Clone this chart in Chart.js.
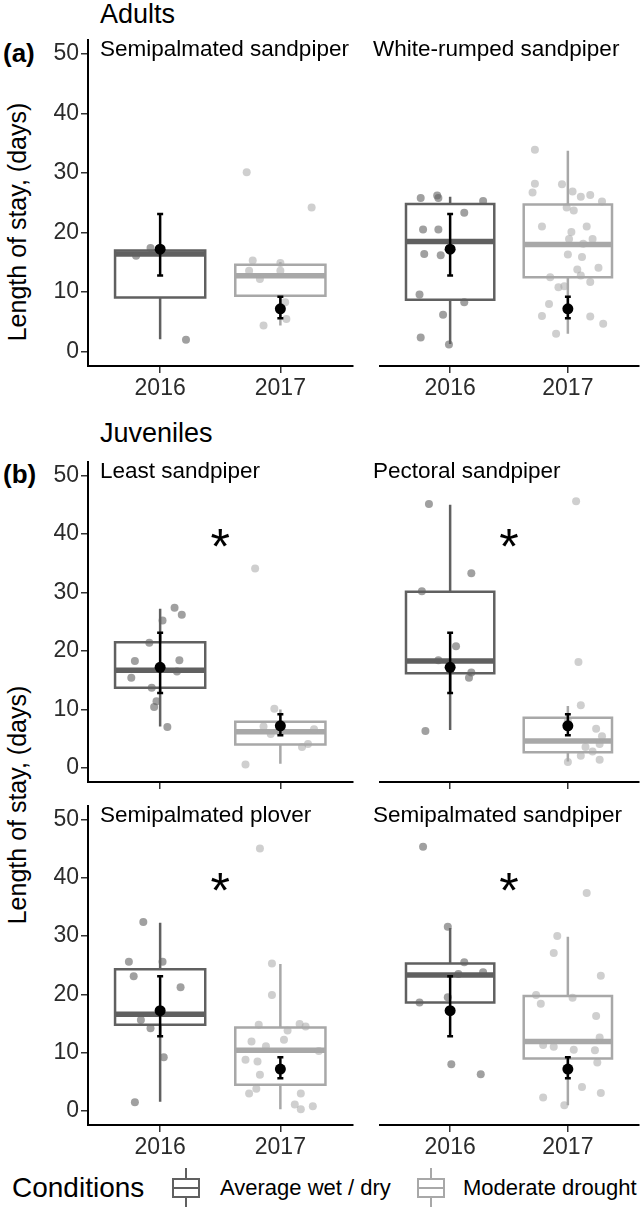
<!DOCTYPE html>
<html lang="en">
<head>
<meta charset="UTF-8">
<title>Length of stay</title>
<style>
  body { margin: 0; background: #fff; }
  #fig { position: relative; width: 644px; height: 1207px; overflow: hidden;
         font-family: "Liberation Sans", Arial, sans-serif; color: #000; }
  #fig canvas { position: absolute; }
  .lbl { position: absolute; white-space: nowrap; line-height: 1; transform: translateY(-50%); }
  .ytitle { position: absolute; white-space: nowrap; line-height: 1; font-size: 25px;
            transform: translate(-50%, -50%) rotate(-90deg); }
  .key { position: absolute; width: 28px; height: 40px; transform: translate(-50%, -50%); }
  .key .wh { position: absolute; left: 13px; width: 2px; top: 0; bottom: 0; }
  .key .bx { position: absolute; left: 0; right: 0; top: 10px; height: 16px; background: #fff; border: 2px solid; }
  .key .md { position: absolute; left: 0; right: 0; top: 7px; height: 2px; }
</style>
</head>
<body>
<div id="fig">
  <div class="lbl" style="left:100px; top:14px; font-size:27px;">Adults</div>
  <div class="lbl" style="left:3px; top:53px; font-size:26px; font-weight:bold;">(a)</div>
  <div class="lbl" style="left:100px; top:433px; font-size:27px;">Juveniles</div>
  <div class="lbl" style="left:3px; top:474px; font-size:26px; font-weight:bold;">(b)</div>
  <div class="ytitle" style="left:17px; top:222px;">Length of stay, (days)</div>
  <div class="ytitle" style="left:17px; top:805px;">Length of stay, (days)</div>

  <div class="lbl" style="left:12px; top:1188px; font-size:28px;">Conditions</div>
  <div class="key" style="left:186px; top:1188px; color:#606060;">
    <div class="wh" style="background:#606060;"></div>
    <div class="bx"><div class="md" style="background:#606060;"></div></div>
  </div>
  <div class="lbl" style="left:220px; top:1188px; font-size:22px;">Average wet / dry</div>
  <div class="key" style="left:431px; top:1188px; color:#a8a8a8;">
    <div class="wh" style="background:#a8a8a8;"></div>
    <div class="bx"><div class="md" style="background:#a8a8a8;"></div></div>
  </div>
  <div class="lbl" style="left:463px; top:1188px; font-size:22px;">Moderate drought</div>
</div>

<script src="https://cdn.jsdelivr.net/npm/chart.js"></script>
<script>
// ---- data ----
const years = ['2016', '2017'];
const yTicks = [0, 10, 20, 30, 40, 50];
const facetNames = ['Semipalmated sandpiper', 'White-rumped sandpiper', 'Least sandpiper',
                    'Pectoral sandpiper', 'Semipalmated plover', 'Semipalmated sandpiper'];

// box stats: [lower whisker, q1, median, q3, upper whisker]
const wetBox = [
  [2.1, 9.1, 16.4, 17.0, 17.0],
  [1.3, 8.7, 18.5, 24.8, 26.0],
  [7.1, 13.7, 16.7, 21.5, 27.2],
  [6.5, 16.2, 18.3, 30.1, 45.0],
  [1.6, 14.8, 16.6, 24.3, 32.3],
  [18.6, 18.6, 23.3, 25.3, 31.4]
];
const dryBox = [
  [4.4, 9.4, 12.75, 14.6, 15.0],
  [3.0, 12.5, 18.0, 24.7, 33.7],
  [0.7, 4.0, 6.2, 7.9, 10.0],
  [1.1, 2.7, 4.6, 8.6, 10.6],
  [0.3, 4.5, 10.4, 14.3, 25.2],
  [1.0, 9.0, 11.9, 19.7, 29.9]
];

// jittered individuals: [x position (1 = 2016, 2 = 2017), days]
const wetPts = [
  [[0.8,16.1],[0.92,17.4],[1.215,2.0]],
  [[0.75,25.8],[0.89,26.2],[0.9,25.8],[1.28,25.3],[1.12,23.3],[0.77,20.5],[0.9,20.5],[0.78,16.4],
   [0.92,16.2],[0.74,9.6],[1.12,8.3],[0.94,6.2],[0.75,2.4],[0.99,1.2]],
  [[1.12,27.4],[1.18,26.2],[1.02,25.2],[0.91,21.4],[0.79,18.3],[1.16,18.4],[1.14,16.5],[0.76,15.4],
   [0.93,13.7],[0.97,11.4],[0.95,10.4],[1.06,7.0]],
  [[0.82,45.1],[1.18,33.3],[0.76,30.2],[1.05,20.8],[0.90,18.4],[1.18,16.3],[1.16,15.4],[0.79,6.3]],
  [[0.86,32.4],[0.74,25.6],[1.02,25.6],[0.78,23.1],[1.17,21.2],[0.84,15.6],[0.92,14.2],[1.03,9.2],[0.79,1.5]],
  [[0.77,45.3],[0.98,31.6],[1.12,25.5],[1.07,23.5],[1.28,23.8],[0.74,18.6],[0.98,19.5],[1.01,8.0],[1.26,6.3]]
];
const dryPts = [
  [[1.72,30.1],[2.26,24.2],[1.77,15.3],[1.74,13.6],[1.83,12.2],[2.0,13.6],[2.04,8.3],[2.05,5.5],
   [1.86,4.4],[2.0,14.9]],
  [[1.72,33.9],[1.72,28.2],[1.70,26.7],[1.95,28.1],[2.04,26.9],[2.11,26.0],[2.19,26.3],[2.29,25.2],
   [2.05,23.7],[1.99,24.2],[1.78,21.0],[2.16,21.0],[2.03,20.1],[2.01,18.9],[2.21,18.9],[2.13,18.1],
   [2.0,16.3],[2.12,15.9],[2.08,13.8],[2.26,14.1],[2.11,12.8],[2.19,11.7],[1.85,12.5],[1.92,10.8],
   [1.97,11.0],[1.84,8.0],[1.78,6.0],[1.90,3.0],[2.19,5.9],[2.30,4.7]],
  [[1.79,34.1],[1.95,10.1],[1.86,7.1],[1.92,5.8],[2.28,6.6],[2.18,3.6],[2.23,4.1],[1.71,0.6]],
  [[2.07,45.6],[2.09,18.1],[2.11,10.7],[2.0,8.0],[2.24,6.7],[2.29,5.4],[2.27,4.1],[2.15,3.6],
   [2.21,2.8],[2.11,2.1],[2.27,1.4],[2.0,1.0]],
  [[1.83,45.0],[1.93,25.3],[1.93,19.9],[1.82,14.8],[2.16,14.9],[2.21,14.5],[2.06,13.8],[2.03,12.2],
   [1.76,11.9],[1.88,11.1],[2.32,10.3],[1.71,8.8],[1.81,8.5],[1.83,6.2],[1.74,3.0],[1.80,3.8],
   [2.17,3.0],[2.12,1.1],[2.17,0.3],[2.27,0.8]],
  [[2.16,37.4],[1.91,30.0],[1.88,27.1],[2.28,23.2],[1.73,19.9],[1.77,18.4],[2.04,19.4],[2.24,16.3],
   [2.27,12.6],[1.79,11.3],[1.88,11.0],[2.05,10.5],[2.23,10.4],[2.25,8.3],[2.12,4.1],[2.28,3.1],
   [1.79,2.3],[1.97,1.0]]
];

// mean +/- interval per year (same in every panel)
const meanDays = [17.2, 7.2];
const meanLow = [12.8, 5.6];
const meanHigh = [23.1, 9.2];

const starred = [false, false, true, true, true, true];
const starPos = [1.5, 39];

// ---- drawing ----
const darkCol = '#606060', lightCol = '#a8a8a8';
const darkPt = 'rgba(96,96,96,0.6)', lightPt = 'rgba(168,168,168,0.55)';
Chart.defaults.font.family = '"Liberation Sans", Arial, sans-serif';

// panel placement: plot area edges in page pixels
const panels = [
  { left: 0,   width: 358, top: 40,  bottom: 366,  yAxis: true,  xLabels: true },
  { left: 374, width: 270, top: 40,  bottom: 366,  yAxis: false, xLabels: true },
  { left: 0,   width: 358, top: 462, bottom: 782,  yAxis: true,  xLabels: false },
  { left: 374, width: 270, top: 462, bottom: 782,  yAxis: false, xLabels: false },
  { left: 0,   width: 358, top: 806, bottom: 1125, yAxis: true,  xLabels: true },
  { left: 374, width: 270, top: 806, bottom: 1125, yAxis: false, xLabels: true }
];
const padTop = 20, xAxisH = 44, yAxisW = 88;

const starPlugin = {
  id: 'sigStar',
  afterDatasetsDraw(chart, args, opts) {
    if (!opts.show) return;
    const { ctx, scales } = chart;
    const size = 50;
    ctx.save();
    ctx.font = size + 'px "Liberation Sans", Arial, sans-serif';
    ctx.fillStyle = '#000';
    ctx.textAlign = 'center';
    ctx.textBaseline = 'alphabetic';
    ctx.fillText('*', scales.x.getPixelForValue(starPos[0]),
                 scales.y.getPixelForValue(starPos[1]) + 0.49 * size);
    ctx.restore();
  }
};

function seg(points, color, width) {
  return { data: points, showLine: true, pointRadius: 0, borderColor: color, borderWidth: width,
           borderCapStyle: 'butt', borderJoinStyle: 'miter', spanGaps: false, fill: false };
}

function boxSets(s, xc, col) {
  const hw = 0.375;
  const box = seg([{x: xc - hw, y: s[1]}, {x: xc + hw, y: s[1]}, {x: xc + hw, y: s[3]},
                   {x: xc - hw, y: s[3]}, {x: xc - hw, y: s[1]}], col, 2.5);
  box.borderCapStyle = 'square';
  return [
    seg([{x: xc, y: s[0]}, {x: xc, y: s[1]}, {x: xc, y: null}, {x: xc, y: s[3]}, {x: xc, y: s[4]}], col, 2.5),
    box,
    seg([{x: xc - hw, y: s[2]}, {x: xc + hw, y: s[2]}], col, 5.5)
  ];
}

function errSets(i) {
  const xc = i + 1, cw = 0.025;
  return seg([{x: xc, y: meanLow[i]}, {x: xc, y: meanHigh[i]}, {x: xc, y: null},
              {x: xc - cw, y: meanLow[i]}, {x: xc + cw, y: meanLow[i]}, {x: xc, y: null},
              {x: xc - cw, y: meanHigh[i]}, {x: xc + cw, y: meanHigh[i]}], '#000', 2.5);
}

const fig = document.getElementById('fig');

panels.forEach((p, i) => {
  const cv = document.createElement('canvas');
  const h = padTop + (p.bottom - p.top) + xAxisH;
  cv.width = p.width; cv.height = h;
  cv.style.left = p.left + 'px';
  cv.style.top = (p.top - padTop) + 'px';
  fig.appendChild(cv);

  const strip = document.createElement('div');
  strip.className = 'lbl';
  strip.style.left = (p.yAxis ? 100 : 373) + 'px';
  strip.style.top = (p.top + 9) + 'px';
  strip.style.fontSize = '22.5px';
  strip.style.zIndex = 2;
  strip.textContent = facetNames[i];
  fig.appendChild(strip);

  // bottom layer first
  const sets = [];
  boxSets(wetBox[i], 1, darkCol).forEach(d => sets.push(d));
  boxSets(dryBox[i], 2, lightCol).forEach(d => sets.push(d));
  sets.push({ data: wetPts[i].map(v => ({x: v[0], y: v[1]})), pointRadius: 4, pointBorderWidth: 0,
              backgroundColor: darkPt, borderColor: 'rgba(0,0,0,0)' });
  sets.push({ data: dryPts[i].map(v => ({x: v[0], y: v[1]})), pointRadius: 4, pointBorderWidth: 0,
              backgroundColor: lightPt, borderColor: 'rgba(0,0,0,0)' });
  sets.push(errSets(0));
  sets.push(errSets(1));
  sets.push({ data: meanDays.map((m, k) => ({x: k + 1, y: m})), pointRadius: 5.5, pointBorderWidth: 0,
              backgroundColor: '#000', borderColor: '#000' });
  sets.reverse(); // chart.js paints dataset 0 last

  new Chart(cv, {
    type: 'scatter',
    data: { datasets: sets },
    options: {
      responsive: false,
      animation: false,
      events: [],
      layout: { padding: { top: padTop, left: 0, right: 0, bottom: 0 } },
      plugins: { legend: { display: false }, tooltip: { enabled: false }, sigStar: { show: starred[i] } },
      scales: {
        x: {
          type: 'linear', min: 0.4, max: 2.6,
          afterBuildTicks: s => { s.ticks = years.map((y, k) => ({ value: k + 1 })); },
          afterFit: s => { s.height = xAxisH; },
          ticks: { display: p.xLabels, callback: (v, k) => years[k], font: { size: 23 }, color: '#2b2b2b',
                   padding: 2, autoSkip: false, maxRotation: 0 },
          grid: { drawOnChartArea: false, drawTicks: true, tickLength: 7, color: '#333', lineWidth: 1.5 },
          border: { display: true, color: '#000', width: 2 }
        },
        y: {
          type: 'linear', min: -2.4, max: 52.3, display: p.yAxis,
          afterBuildTicks: s => { s.ticks = yTicks.map(v => ({ value: v })); },
          afterFit: s => { s.width = p.yAxis ? yAxisW : 0; },
          ticks: { display: p.yAxis, font: { size: 23 }, color: '#2b2b2b', padding: 2 },
          grid: { display: p.yAxis, drawOnChartArea: false, drawTicks: true, tickLength: 7, color: '#333', lineWidth: 1.5 },
          border: { display: p.yAxis, color: '#000', width: 2 }
        }
      }
    },
    plugins: [starPlugin]
  });
});
</script>
</body>
</html>
